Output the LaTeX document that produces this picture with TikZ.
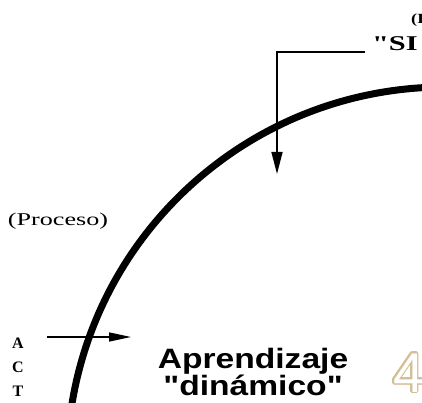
\documentclass[tikz,border=0pt]{standalone}
\usepackage{fontspec}
\setmainfont{Liberation Serif}
\setsansfont{Liberation Sans}
\usepackage{contour}
\usetikzlibrary{arrows.meta}
\definecolor{numtan}{RGB}{212,190,150}
\contourlength{1.1pt}
\contournumber{32}

\begin{document}
\begin{tikzpicture}[
    x=1pt,
    y=-1pt,
    line cap=butt,
    thinline/.style={line width=1.5pt},
    every node/.style={inner sep=0pt, outer sep=0pt}
]
\useasboundingbox (0,0) rectangle (422,403);

% the big curve
\draw[line width=7pt] (445,465) ++(184:378) arc[start angle=184, end angle=268, radius=378];

% labels
\node[anchor=base west, font=\fontsize{14}{14}\selectfont\bfseries, xscale=1.3] (top) at (411,24) {(I};
\node[anchor=base west, font=\fontsize{21}{21}\selectfont\bfseries, xscale=1.45] (sys) at (372,51) {\textquotedbl SI};
\node[anchor=base west, font=\fontsize{18}{18}\selectfont, xscale=1.45] (proc) at (8,225) {(Proceso)};
\node[anchor=north, font=\fontsize{16}{24}\selectfont\bfseries, align=center] (act) at (18,338) {A\\C\\T};
\node[anchor=north, font=\fontsize{28}{26}\selectfont\sffamily\bfseries, align=center, xscale=1.2] (aprend) at (253,348) {Aprendizaje\\\textquotedbl din\'amico\textquotedbl};
\node[anchor=base west, font=\fontsize{56}{56}\selectfont\sffamily] (num) at (393,392) {\color{white}\contour{numtan}{4}};

% bent arrow from the top label
\coordinate (sysend) at (365,52);
\coordinate (systip) at (277,174);
\draw[thinline, -{Triangle[length=22pt,width=11pt]}] (sysend) -| (systip);

% arrow at the A
\coordinate (actstart) at (47,337);
\coordinate (acttip) at (131,337);
\draw[thinline, -{Triangle[length=22pt,width=9pt]}] (actstart) -- (acttip);

\end{tikzpicture}
\end{document}
